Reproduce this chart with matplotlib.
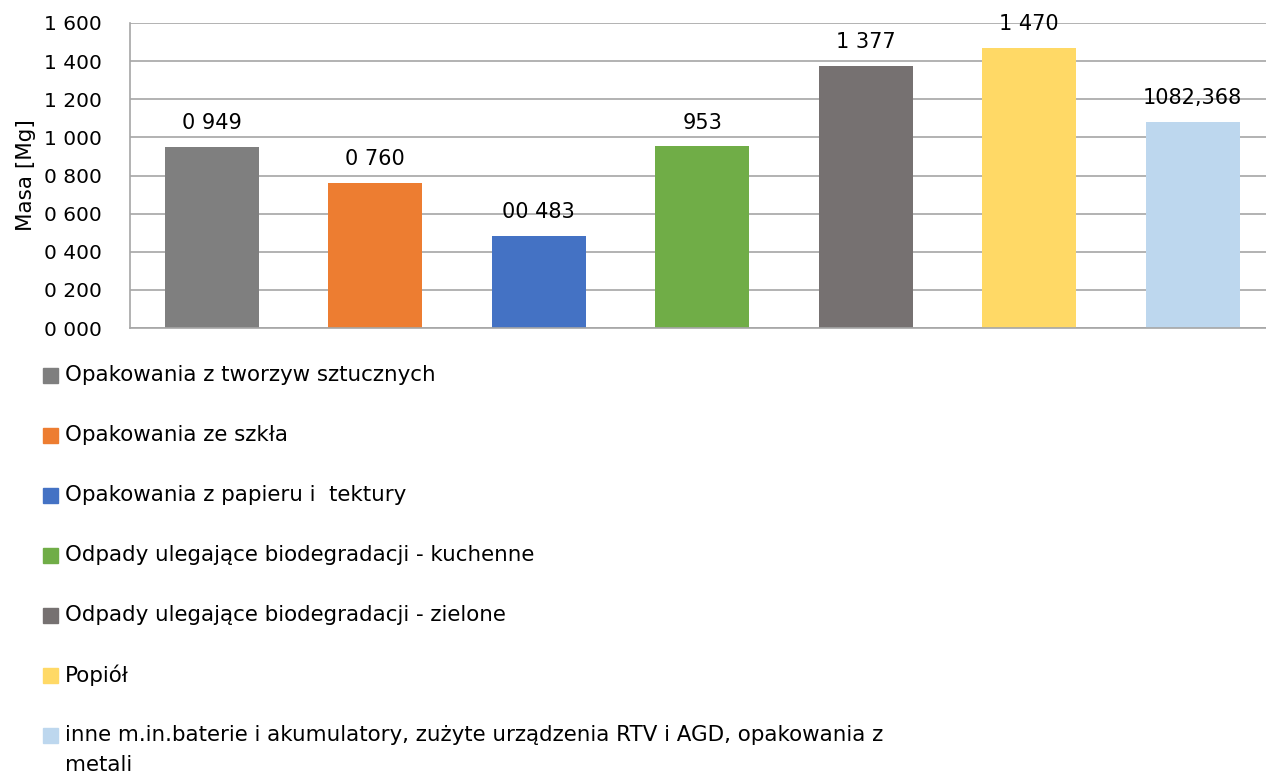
import matplotlib
matplotlib.use("Agg")
import matplotlib.pyplot as plt
from matplotlib.patches import Rectangle

# data
categories = [
    "Opakowania z tworzyw sztucznych",
    "Opakowania ze szkła",
    "Opakowania z papieru i  tektury",
    "Odpady ulegające biodegradacji - kuchenne",
    "Odpady ulegające biodegradacji - zielone",
    "Popiół",
    "inne m.in.baterie i akumulatory, zużyte urządzenia RTV i AGD, opakowania z\nmetali",
]
masses = [949, 760, 483, 953, 1377, 1470, 1082.368]
value_labels = ["0 949", "0 760", "00 483", "953", "1 377", "1 470", "1082,368"]
colors = ["#7F7F7F", "#ED7D31", "#4472C4", "#70AD47", "#767171", "#FFD966", "#BDD7EE"]
y_ticks = [0, 200, 400, 600, 800, 1000, 1200, 1400, 1600]
y_tick_labels = ["0 000", "0 200", "0 400", "0 600", "0 800", "1 000", "1 200", "1 400", "1 600"]

plt.rcParams["font.family"] = ["DejaVu Sans"]

W, H = 1266, 777
fig = plt.figure(figsize=(W / 100, H / 100), dpi=100)
ax = fig.add_axes([130 / W, (H - 328) / H, (W - 130) / W, (328 - 23) / H])

x = list(range(len(masses)))
ax.bar(x, masses, width=0.575, color=colors, zorder=2)
ax.set_xlim(-0.5, -0.5 + (W - 130) / 163.5)
ax.set_ylim(0, 1600)
ax.set_yticks(y_ticks)
ax.set_yticklabels(y_tick_labels, fontsize=14.5)
ax.tick_params(axis="y", length=0, pad=20)
ax.set_xticks([])
ax.grid(axis="y", color="#A6A6A6", linewidth=1.2, zorder=0)
for side in ["top", "right"]:
    ax.spines[side].set_visible(False)
ax.spines["left"].set_color("#A6A6A6")
ax.spines["bottom"].set_color("#A6A6A6")
ax.spines["left"].set_linewidth(1.2)
ax.spines["bottom"].set_linewidth(1.2)
ax.set_ylabel("Masa [Mg]", fontsize=15.5, labelpad=6)

for xi, m, lab in zip(x, masses, value_labels):
    ax.annotate(lab, (xi, m), xytext=(0, 12.7), textcoords="offset points",
                ha="center", va="baseline", fontsize=15, clip_on=False)

# legend drawn by hand, one row per category
row_y = 375
for cat, col in zip(categories, colors):
    fig.patches.append(Rectangle((43 / W, (H - row_y - 7.5) / H), 15 / W, 15 / H,
                                 transform=fig.transFigure, color=col))
    for i, line in enumerate(cat.split("\n")):
        fig.text(65 / W, (H - row_y - 30 * i) / H, line, fontsize=15.4,
                 ha="left", va="center")
    row_y += 60

fig.savefig("out.png", dpi=100)
